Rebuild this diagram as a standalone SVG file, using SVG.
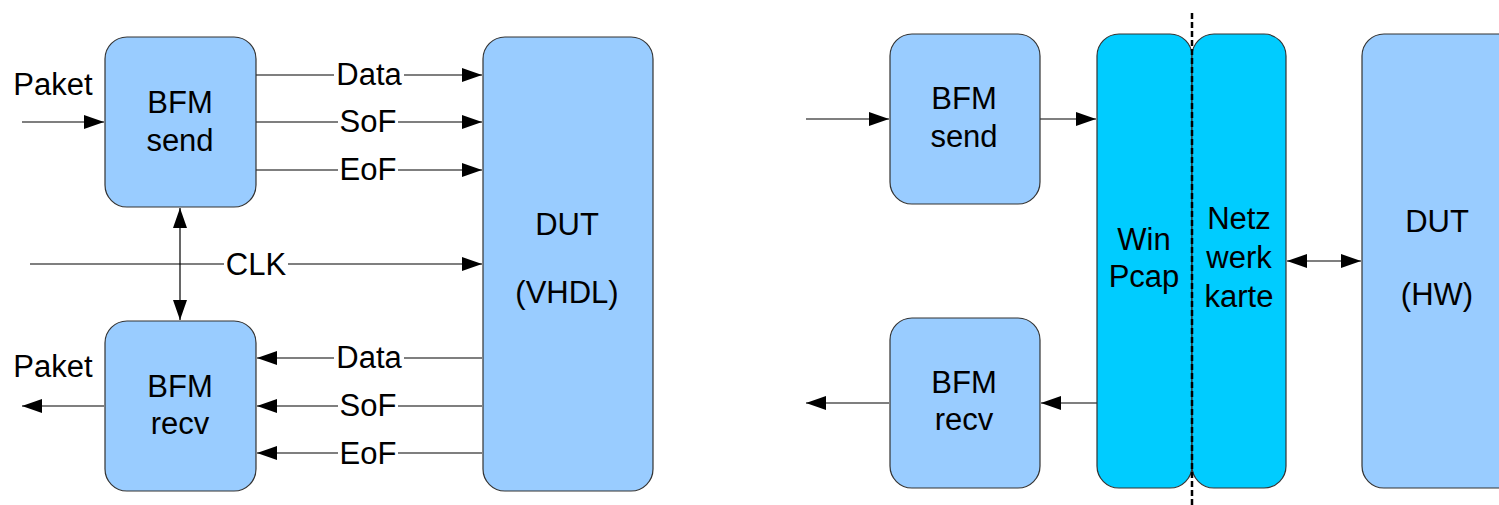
<svg xmlns="http://www.w3.org/2000/svg" width="1499" height="505" viewBox="0 0 1499 505">
<style>
.box{fill:#99ccff;stroke:#333;stroke-width:1.2}
.cyan{fill:#00ccff;stroke:#333;stroke-width:1.2}
.t{font-family:"Liberation Sans",Arial,sans-serif;font-size:31px;fill:#000;text-anchor:middle}
.c{fill:none;stroke:#000;stroke-width:1.2}
</style>
<defs>
<marker id="ah" markerUnits="userSpaceOnUse" viewBox="0 0 20 14" markerWidth="20" markerHeight="14" refX="20" refY="7" orient="auto-start-reverse">
<path d="M0 0 L20 7 L0 14 Z" fill="#000"/>
</marker>
</defs>
<rect width="1499" height="505" fill="#fff"/>

<g id="connectors">
<path class="c" d="M22 122 H104" marker-end="url(#ah)"/>
<path class="c" d="M256 75 H334 M404 75 H482" marker-end="url(#ah)"/>
<path class="c" d="M256 122 H338 M398 122 H482" marker-end="url(#ah)"/>
<path class="c" d="M256 170 H338 M398 170 H482" marker-end="url(#ah)"/>
<path class="c" d="M30 264 H224 M288 264 H482" marker-end="url(#ah)"/>
<path class="c" d="M180 208 V320" marker-start="url(#ah)" marker-end="url(#ah)"/>
<path class="c" d="M482 358 H404 M334 358 H257" marker-end="url(#ah)"/>
<path class="c" d="M482 406 H398 M338 406 H257" marker-end="url(#ah)"/>
<path class="c" d="M482 453 H398 M338 453 H257" marker-end="url(#ah)"/>
<path class="c" d="M104 406 H22" marker-end="url(#ah)"/>

<path class="c" d="M806 119 H889" marker-end="url(#ah)"/>
<path class="c" d="M1040 119 H1096" marker-end="url(#ah)"/>
<path class="c" d="M1097 403 H1041" marker-end="url(#ah)"/>
<path class="c" d="M889 403 H806" marker-end="url(#ah)"/>
<path class="c" d="M1287 261 H1361" marker-start="url(#ah)" marker-end="url(#ah)"/>
</g>

<g id="label-paket-in"><text class="t" x="53" y="95">Paket</text></g>
<g id="label-paket-out"><text class="t" x="53" y="377">Paket</text></g>
<g id="labels-send">
<text class="t" x="369" y="85">Data</text>
<text class="t" x="368" y="132">SoF</text>
<text class="t" x="368" y="180">EoF</text>
<text class="t" x="256" y="275">CLK</text>
</g>
<g id="labels-recv">
<text class="t" x="369" y="368">Data</text>
<text class="t" x="368" y="416">SoF</text>
<text class="t" x="368" y="464">EoF</text>
</g>

<g id="bfm-send-left">
<rect class="box" x="105" y="37" width="151" height="170" rx="22"/>
<text class="t" x="180" y="113">BFM</text>
<text class="t" x="180" y="151">send</text>
</g>
<g id="bfm-recv-left">
<rect class="box" x="105" y="321" width="151" height="170" rx="22"/>
<text class="t" x="180" y="397">BFM</text>
<text class="t" x="180" y="434">recv</text>
</g>
<g id="dut-vhdl">
<rect class="box" x="483" y="37" width="170" height="454" rx="22"/>
<text class="t" x="567" y="235">DUT</text>
<text class="t" x="567" y="303">(VHDL)</text>
</g>

<g id="bfm-send-right">
<rect class="box" x="890" y="34" width="150" height="170" rx="22"/>
<text class="t" x="964" y="109">BFM</text>
<text class="t" x="964" y="147">send</text>
</g>
<g id="bfm-recv-right">
<rect class="box" x="890" y="318" width="150" height="170" rx="22"/>
<text class="t" x="964" y="393">BFM</text>
<text class="t" x="964" y="430">recv</text>
</g>
<g id="winpcap">
<rect class="cyan" x="1097" y="34" width="95" height="454" rx="22"/>
<text class="t" x="1144" y="250">Win</text>
<text class="t" x="1144" y="287">Pcap</text>
</g>
<g id="netzwerkkarte">
<rect class="cyan" x="1192" y="34" width="94" height="454" rx="22"/>
<text class="t" x="1239" y="229">Netz</text>
<text class="t" x="1239" y="268">werk</text>
<text class="t" x="1239" y="307">karte</text>
</g>
<g id="dut-hw">
<rect class="box" x="1362" y="34" width="170" height="454" rx="22"/>
<text class="t" x="1437" y="232">DUT</text>
<text class="t" x="1437" y="305">(HW)</text>
</g>
<g id="divider">
<line x1="1192" y1="13" x2="1192" y2="505" stroke="#000" stroke-width="2.5" stroke-dasharray="6 3"/>
</g>
</svg>
